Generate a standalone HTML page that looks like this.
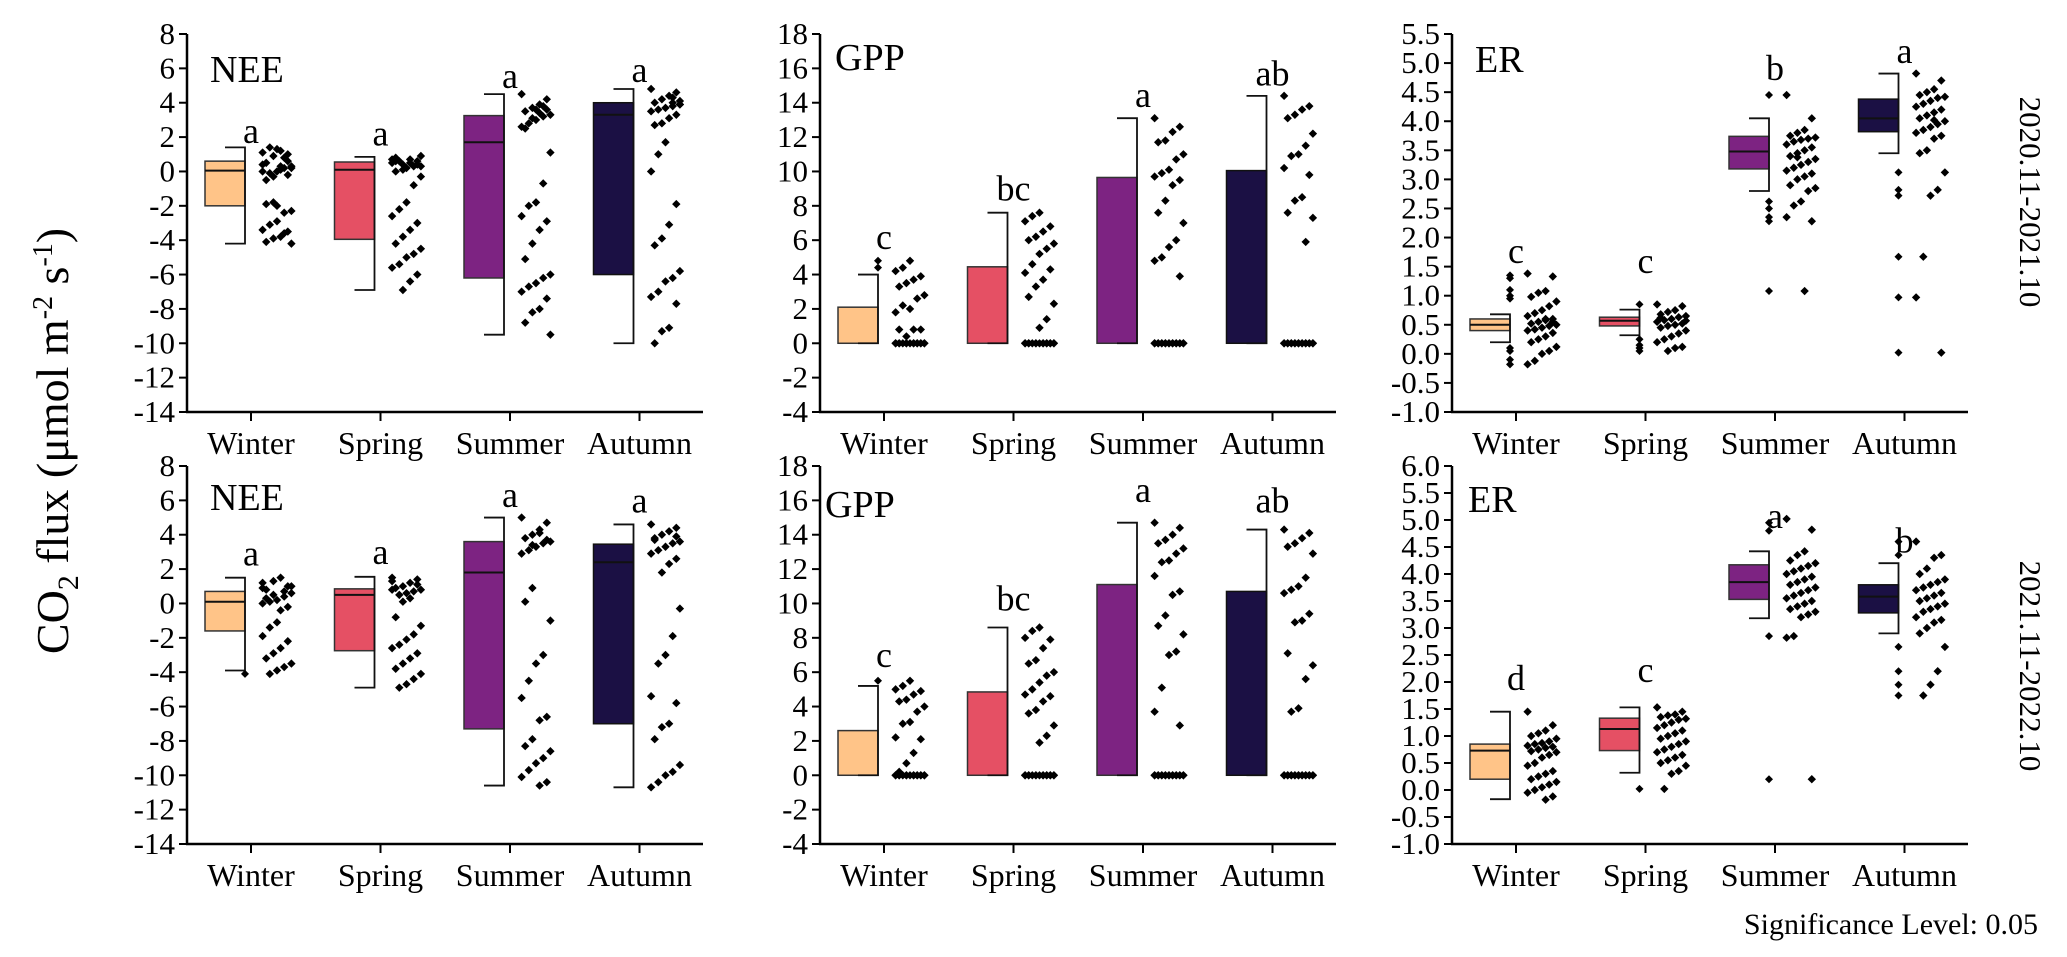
<!DOCTYPE html>
<html><head><meta charset="utf-8">
<style>
html,body{margin:0;padding:0;background:#fff;}
svg{display:block;font-family:"Liberation Serif",serif;}
</style></head>
<body>
<svg id="chart" width="2067" height="957" viewBox="0 0 2067 957" xmlns="http://www.w3.org/2000/svg">
<text transform="translate(68,441) rotate(-90)" text-anchor="middle" font-size="46">CO<tspan font-size="30" dy="10">2</tspan><tspan dy="-10"> flux (μmol m</tspan><tspan font-size="28" dy="-16">-2</tspan><tspan dy="16"> s</tspan><tspan font-size="28" dy="-16">-1</tspan><tspan dy="16">)</tspan></text>
<text transform="translate(2020,202) rotate(90)" text-anchor="middle" font-size="31">2020.11-2021.10</text>
<text transform="translate(2020,666) rotate(90)" text-anchor="middle" font-size="31">2021.11-2022.10</text>
<text x="2038" y="934" text-anchor="end" font-size="30">Significance Level: 0.05</text>
</svg>
<script>
// ---- data ----
const seasons = ["Winter","Spring","Summer","Autumn"];
const colors = ["#FFC488","#E55064","#7D2382","#1B1044"];
const strokes = ["#333","#333","#333","#111"];
function z(n){const a=[];for(let i=0;i<n;i++)a.push(0);return a;}

// NEE 2020-2021
const neeTopQ1 = [-2.0,-3.95,-6.2,-6.0];
const neeTopMed = [0.05,0.1,1.7,3.3];
const neeTopQ3 = [0.6,0.55,3.25,4.0];
const neeTopLo = [-4.2,-6.9,-9.5,-10.0];
const neeTopHi = [1.4,0.85,4.5,4.8];
const neeTopLetters = ["a","a","a","a"];
const neeTopLetterY = [1.65,1.5,4.85,5.2];
const neeTopPts = [
 [1.1,1.0,1.2,0.9,0.5,0.3,0.2,0.0,-0.1,0.4,0.6,0.1,-0.3,-0.5,0.2,0.8,1.3,1.4,0.0,-0.2,0.3,-1.8,-1.9,-2.3,-2.4,-2.9,-3.1,-3.4,-3.5,-3.8,-3.9,-4.1,-4.2,-3.6,-2.0],
 [0.7,0.6,0.5,0.4,0.8,0.9,0.3,0.2,0.6,0.5,0.4,0.7,0.1,0.0,-0.3,-0.8,-1.8,-2.2,-2.6,-3.0,-3.4,-3.8,-4.2,-4.5,-4.8,-5.0,-5.4,-5.6,-6.0,-6.4,-6.9,0.6,0.3],
 [4.5,4.2,3.9,3.7,3.5,3.3,3.2,3.0,2.8,2.6,3.6,3.4,3.1,2.5,1.1,-0.7,-1.8,-2.0,-2.6,-2.9,-3.4,-4.2,-5.1,-6.0,-6.2,-6.5,-6.7,-7.0,-7.4,-8.0,-8.2,-8.8,-9.5,3.8,3.6],
 [4.8,4.6,4.4,4.2,4.0,3.9,3.8,3.7,3.6,3.5,3.3,3.1,2.8,2.7,4.1,4.3,1.7,1.0,0.0,-1.9,-3.1,-3.9,-4.3,-5.8,-6.2,-6.4,-7.0,-7.3,-7.7,-9.1,-9.3,-10.0,3.9,4.0]];
const neeTopOut = [[],[],[],[]];

// NEE 2021-2022
const neeBotQ1 = [-1.6,-2.75,-7.3,-7.0];
const neeBotMed = [0.1,0.5,1.8,2.4];
const neeBotQ3 = [0.7,0.85,3.6,3.45];
const neeBotLo = [-3.9,-4.9,-10.6,-10.7];
const neeBotHi = [1.5,1.55,5.0,4.6];
const neeBotLetters = ["a","a","a","a"];
const neeBotLetterY = [2.2,2.3,5.6,5.3];
const neeBotPts = [
 [1.2,1.0,1.5,1.3,0.8,0.6,0.4,0.2,0.1,0.0,-0.2,-0.4,0.5,0.3,1.0,0.7,-1.1,-1.4,-1.9,-2.2,-2.6,-2.9,-3.2,-3.5,-3.7,-3.9,-4.1,0.9],
 [1.5,1.4,1.2,1.0,0.9,0.8,0.7,0.6,0.5,1.3,1.1,0.3,0.1,-0.8,-1.3,-1.8,-2.1,-2.4,-2.6,-2.9,-3.2,-3.5,-3.8,-4.1,-4.4,-4.7,-4.9,0.8],
 [5.0,4.7,4.3,4.0,3.8,3.6,3.5,3.3,3.1,2.9,3.7,4.1,0.9,0.1,-1.0,-3.0,-3.5,-4.5,-5.5,-6.6,-6.8,-7.9,-8.3,-8.6,-9.0,-9.3,-9.7,-10.1,-10.4,-10.6,3.4],
 [4.6,4.4,4.2,4.0,3.8,3.6,3.5,3.3,3.1,2.9,2.6,2.3,1.8,3.7,-0.3,-1.9,-3.0,-3.5,-5.4,-5.8,-7.0,-7.2,-7.9,-9.4,-9.8,-10.0,-10.4,-10.7,3.9]];
const neeBotOut = [[-4.1],[],[],[]];

// GPP 2020-2021
const gppTopQ3 = [2.1,4.45,9.65,10.05];
const gppTopHi = [4.0,7.6,13.1,14.4];
const gppTopLetters = ["c","bc","a","ab"];
const gppTopLetterY = [5.5,8.3,13.75,15.0];
const gppTopPts = [
 z(16).concat([4.8,4.4,4.2,3.9,3.7,3.5,3.3,2.8,2.6,2.0,2.2,1.8,0.8,0.8,0.4,0.8]),
 z(16).concat([7.6,7.4,7.1,6.8,6.5,6.2,6.0,5.8,5.5,5.2,4.6,4.1,4.3,3.7,3.3,2.7,2.3,1.4,0.9]),
 z(18).concat([13.1,12.6,12.3,11.8,11.7,11.0,10.7,10.1,9.9,9.7,9.5,9.2,8.3,7.6,7.0,6.0,5.6,5.0,4.8,3.9]),
 z(18).concat([14.4,13.8,13.6,13.3,13.1,12.2,11.5,11.0,10.9,10.2,9.8,8.5,8.3,7.6,7.3,5.9])];
const gppTopOut = [[4.8,4.4],[],[],[]];

// GPP 2021-2022
const gppBotQ3 = [2.6,4.85,11.1,10.7];
const gppBotHi = [5.2,8.6,14.7,14.3];
const gppBotLetters = ["c","bc","a","ab"];
const gppBotLetterY = [6.3,9.6,15.9,15.3];
const gppBotPts = [
 z(16).concat([5.5,5.2,5.0,4.9,4.7,4.4,4.3,4.0,3.7,3.1,3.0,2.2,2.1,1.3,0.7,0.2]),
 z(16).concat([8.6,8.4,8.0,7.9,7.4,6.7,6.5,6.0,5.8,5.4,5.0,4.7,4.6,4.3,3.8,3.6,2.9,2.3,1.9]),
 z(18).concat([14.7,14.4,14.0,13.7,13.5,13.2,12.9,12.5,12.4,11.6,10.7,10.5,9.3,8.7,8.2,7.2,7.0,5.1,3.7,2.9]),
 z(18).concat([14.3,14.1,13.8,13.5,13.3,12.9,11.5,11.0,10.8,10.6,9.4,9.0,8.9,7.1,6.4,5.6,3.9,3.7])];
const gppBotOut = [[5.5],[],[],[]];

// ER 2020-2021
const erTopQ1 = [0.4,0.48,3.18,3.82];
const erTopMed = [0.5,0.57,3.48,4.05];
const erTopQ3 = [0.6,0.63,3.74,4.38];
const erTopLo = [0.2,0.32,2.8,3.45];
const erTopHi = [0.68,0.76,4.05,4.82];
const erTopLetters = ["c","c","b","a"];
const erTopLetterY = [1.56,1.39,4.71,5.0];
const erTopPts = [
 [1.38,1.33,1.08,1.05,0.98,0.9,0.82,0.75,0.7,0.65,0.6,0.58,0.55,0.52,0.5,0.48,0.45,0.42,0.4,0.36,0.3,0.25,0.2,0.12,0.05,0.0,-0.12,-0.18,0.55,0.6],
 [0.85,0.82,0.75,0.72,0.68,0.65,0.63,0.6,0.58,0.55,0.52,0.5,0.48,0.45,0.4,0.35,0.3,0.25,0.2,0.12,0.1,0.05,0.62,0.57],
 [4.45,4.05,3.85,3.8,3.75,3.72,3.7,3.68,3.65,3.6,3.55,3.5,3.45,3.4,3.35,3.3,3.25,3.2,3.15,3.1,3.05,3.0,2.9,2.85,2.8,2.62,2.55,2.35,2.28,1.08,3.38],
 [4.82,4.7,4.55,4.5,4.45,4.42,4.4,4.35,4.3,4.25,4.2,4.15,4.1,4.05,4.0,3.95,3.9,3.85,3.8,3.75,3.7,3.5,3.45,3.12,2.82,2.72,1.67,0.97,0.02,4.02]];
const erTopOut = [[1.35,1.3,1.1,1.0,0.95,0.1,0.05,-0.1,-0.18],[0.25,0.15,0.1,0.05,0.85],[4.45,2.62,2.5,2.35,2.28,1.08],[3.12,2.82,2.72,1.67,0.97,0.02]];

// ER 2021-2022
const erBotQ1 = [0.2,0.73,3.53,3.28];
const erBotMed = [0.73,1.13,3.85,3.58];
const erBotQ3 = [0.85,1.33,4.17,3.8];
const erBotLo = [-0.17,0.32,3.18,2.9];
const erBotHi = [1.45,1.53,4.42,4.2];
const erBotLetters = ["d","c","a","b"];
const erBotLetterY = [1.85,2.0,4.85,4.4];
const erBotPts = [
 [1.45,1.2,1.1,1.05,1.0,0.95,0.9,0.87,0.85,0.82,0.8,0.78,0.75,0.72,0.7,0.65,0.6,0.5,0.45,0.35,0.3,0.25,0.2,0.15,0.1,0.05,0.0,-0.05,-0.12,-0.18],
 [1.53,1.45,1.4,1.38,1.35,1.32,1.3,1.25,1.2,1.15,1.1,1.05,1.0,0.95,0.9,0.85,0.8,0.75,0.7,0.65,0.6,0.55,0.5,0.45,0.35,0.3,0.02],
 [5.02,4.82,4.42,4.35,4.25,4.2,4.15,4.1,4.05,4.0,3.95,3.9,3.85,3.8,3.75,3.7,3.65,3.6,3.55,3.5,3.45,3.4,3.35,3.3,3.25,3.2,2.85,2.82,0.2],
 [4.6,4.35,4.3,4.1,4.0,3.9,3.85,3.8,3.75,3.7,3.65,3.6,3.55,3.5,3.45,3.4,3.35,3.3,3.2,3.15,3.1,3.0,2.9,2.65,2.2,1.95,1.75]];
const erBotOut = [[],[0.02],[4.95,4.8,2.85,0.2],[4.6,4.35,2.65,2.2,1.95,1.75]];

// ---- rendering ----
const NS = "http://www.w3.org/2000/svg";
const svg = document.getElementById("chart");
function mk(tag, attrs, parent){
  const e = document.createElementNS(NS, tag);
  for (const k in attrs) e.setAttribute(k, attrs[k]);
  (parent||svg).appendChild(e);
  return e;
}

function panel(cfg){
  const g = mk("g", {});
  
  
  const yS = v => cfg.top + (cfg.max - v) / (cfg.max - cfg.min) * (cfg.bottom - cfg.top);
  const xS = k => cfg.ax + 64 + k * 129.5;
  const yAxis = mk("line", {x1:cfg.ax, y1:cfg.top, x2:cfg.ax, y2:cfg.bottom+1, stroke:"#000","stroke-width":2.5}, g);
  
  
  const xAxis = mk("line", {x1:cfg.ax-1, y1:cfg.bottom, x2:cfg.ax+516, y2:cfg.bottom, stroke:"#000","stroke-width":2.5}, g);
  
  
  const nT = Math.round((cfg.max - cfg.min) / cfg.step);
  for (let i = 0; i <= nT; i++){
    const v = cfg.min + i * cfg.step;
    const y = yS(v);
    mk("line", {x1:cfg.ax-8, y1:y, x2:cfg.ax, y2:y, stroke:"#000","stroke-width":2}, g);
    const t = mk("text", {x:cfg.ax-12, y:y+10, "text-anchor":"end", "font-size":31}, g);
    t.textContent = cfg.step < 1 ? v.toFixed(1) : String(Math.round(v));
    
    
  }
  seasons.forEach((s, k) => {
    const cx = xS(k);
    mk("line", {x1:cx, y1:cfg.bottom, x2:cx, y2:cfg.bottom+9, stroke:"#000","stroke-width":2}, g);
    const t = mk("text", {x:cx, y:cfg.bottom+42, "text-anchor":"middle", "font-size":32}, g);
    t.textContent = s;
    
    

    const left = cx - 46, right = cx - 6;
    const q1 = cfg.q1 ? cfg.q1[k] : 0;
    const q3 = cfg.q3[k];
    const box = mk("rect", {x:left, y:yS(q3), width:right-left, height:yS(q1)-yS(q3), fill:colors[k], stroke:strokes[k], "stroke-width":1.5}, g);
    
    
    if (cfg.med){
      const m = mk("line", {x1:left, y1:yS(cfg.med[k]), x2:right, y2:yS(cfg.med[k]), stroke:"#111", "stroke-width":2}, g);
      
      
    }
    const lo = cfg.lo ? cfg.lo[k] : 0;
    const hi = cfg.hi[k];
    const wp = mk("path", {d:`M${right-20},${yS(hi)}H${right}V${yS(lo)}H${right-20}`, fill:"none", stroke:"#111", "stroke-width":1.8}, g);
    
    
    cfg.out[k].forEach(v => {
      const y = yS(v);
      const d = mk("path", {d:`M${right},${y-4}L${right+4},${y}L${right},${y+4}L${right-4},${y}Z`, fill:"#000"}, g);
      
      
    });
    cfg.pts[k].forEach((v, i) => {
      const off = (((i * 7) % 9) - 4) * 3.6;
      const x = cx + 26 + off;
      const y = yS(v);
      const d = mk("path", {d:`M${x},${y-4.2}L${x+4.2},${y}L${x},${y+4.2}L${x-4.2},${y}Z`, fill:"#000"}, g);
      
      
    });
    const lt = mk("text", {x:cx, y:yS(cfg.letterY[k]), "text-anchor":"middle", "font-size":36}, g);
    lt.textContent = cfg.letters[k];
    
    
  });
  const title = mk("text", {x:cfg.titleX, y:cfg.titleY, "font-size":38}, g);
  title.textContent = cfg.title;
  
  
}

panel({name:"nee-2020-panel", title:"NEE", titleX:210, titleY:82, ax:187, top:34, bottom:412, min:-14, max:8, step:2,
  q1:neeTopQ1, med:neeTopMed, q3:neeTopQ3, lo:neeTopLo, hi:neeTopHi, pts:neeTopPts, out:neeTopOut, letters:neeTopLetters, letterY:neeTopLetterY});
panel({name:"nee-2021-panel", title:"NEE", titleX:210, titleY:510, ax:187, top:466, bottom:844, min:-14, max:8, step:2,
  q1:neeBotQ1, med:neeBotMed, q3:neeBotQ3, lo:neeBotLo, hi:neeBotHi, pts:neeBotPts, out:neeBotOut, letters:neeBotLetters, letterY:neeBotLetterY});
panel({name:"gpp-2020-panel", title:"GPP", titleX:835, titleY:70, ax:820, top:34, bottom:412, min:-4, max:18, step:2,
  q3:gppTopQ3, hi:gppTopHi, pts:gppTopPts, out:gppTopOut, letters:gppTopLetters, letterY:gppTopLetterY});
panel({name:"gpp-2021-panel", title:"GPP", titleX:825, titleY:517, ax:820, top:466, bottom:844, min:-4, max:18, step:2,
  q3:gppBotQ3, hi:gppBotHi, pts:gppBotPts, out:gppBotOut, letters:gppBotLetters, letterY:gppBotLetterY});
panel({name:"er-2020-panel", title:"ER", titleX:1475, titleY:72, ax:1452, top:34, bottom:412, min:-1, max:5.5, step:0.5,
  q1:erTopQ1, med:erTopMed, q3:erTopQ3, lo:erTopLo, hi:erTopHi, pts:erTopPts, out:erTopOut, letters:erTopLetters, letterY:erTopLetterY});
panel({name:"er-2021-panel", title:"ER", titleX:1468, titleY:512, ax:1452, top:466, bottom:844, min:-1, max:6, step:0.5,
  q1:erBotQ1, med:erBotMed, q3:erBotQ3, lo:erBotLo, hi:erBotHi, pts:erBotPts, out:erBotOut, letters:erBotLetters, letterY:erBotLetterY});
</script>
</body></html>
